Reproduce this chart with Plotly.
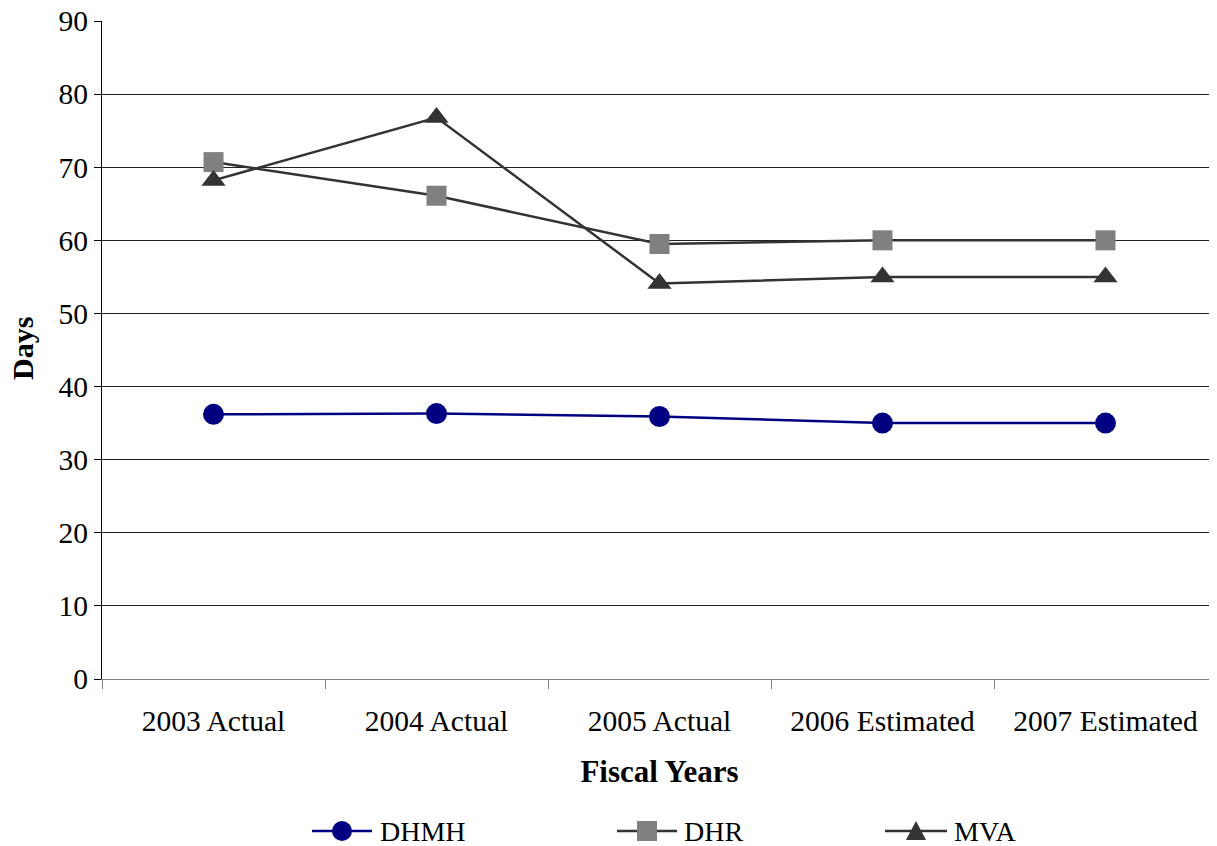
import plotly.graph_objects as go

categories = ["2003 Actual", "2004 Actual", "2005 Actual", "2006 Estimated", "2007 Estimated"]
dhmh = [36.2, 36.3, 35.9, 35.0, 35.0]
dhr = [70.7, 66.1, 59.5, 60.0, 60.0]
mva = [68.2, 76.8, 54.1, 55.0, 55.0]
series_names = ["DHMH", "DHR", "MVA"]

FONT = "'Liberation Serif', 'Times New Roman', Times, serif"
OFF = 8  # page body margin
W, H = 1217 - OFF, 846 - OFF
L, R, T, B = 102 - OFF, 0, 21 - OFF, 167
pw = W - L - R
ph = H - T - B

def px2x(page_px):
    return (page_px - OFF - L) / pw

def py2y(page_py):
    return 1 - (page_py - OFF - T) / ph

styles = [
    dict(line="#000080", marker="#000080", symbol="circle", size=21),
    dict(line="#333333", marker="#808080", symbol="square", size=20),
    dict(line="#333333", marker="#333333", symbol="triangle-up", size=21),
]
values = [dhmh, dhr, mva]

fig = go.Figure()
for name, vals, st in zip(series_names, values, styles):
    fig.add_trace(go.Scatter(x=categories, y=vals, name=name, mode="lines+markers",
                             line=dict(color=st["line"], width=2.5),
                             marker=dict(symbol=st["symbol"], size=st["size"], color=st["marker"]),
                             showlegend=False))

# Manual legend (line + symbol + serif text) below the plot
leg_y_px = 831
leg_items = [(312, 372, 378), (617, 677, 682), (885, 947, 952)]  # line start, line end, text start (page px)
symbol_paths = {
    "circle": None,
    "square": "M-10,-10 L10,-10 L10,10 L-10,10 Z",
    "triangle-up": "M-10,-9 L10,-9 L0,10 Z",
}
shapes = []
annotations = []
for (x0, x1, xt), name, st in zip(leg_items, series_names, styles):
    ya = py2y(leg_y_px)
    xc = px2x((x0 + x1) / 2)
    shapes.append(dict(type="line", xref="paper", yref="paper",
                       x0=px2x(x0), x1=px2x(x1), y0=ya, y1=ya,
                       line=dict(color=st["line"], width=2.5)))
    if st["symbol"] == "circle":
        shapes.append(dict(type="circle", xref="paper", yref="paper",
                           xsizemode="pixel", ysizemode="pixel", xanchor=xc, yanchor=ya,
                           x0=-10, x1=10, y0=-10, y1=10,
                           fillcolor=st["marker"], line=dict(width=0)))
    else:
        shapes.append(dict(type="path", xref="paper", yref="paper",
                           xsizemode="pixel", ysizemode="pixel", xanchor=xc, yanchor=ya,
                           path=symbol_paths[st["symbol"]],
                           fillcolor=st["marker"], line=dict(width=0)))
    annotations.append(dict(text=name, showarrow=False, xref="paper", yref="paper",
                            x=px2x(xt), y=ya, xanchor="left", yanchor="middle",
                            font=dict(family=FONT, size=28, color="black")))

annotations.append(dict(
    text="<b>Days</b>", textangle=-90, showarrow=False,
    xref="paper", yref="paper", x=px2x(22), y=py2y(349),
    xanchor="center", yanchor="middle",
    font=dict(family=FONT, size=30, color="black"),
))

fig.update_layout(
    template="none",
    width=W, height=H,
    margin=dict(l=L, r=R, t=T, b=B, autoexpand=False),
    plot_bgcolor="white", paper_bgcolor="white",
    font=dict(family=FONT, color="black"),
    showlegend=False,
    xaxis=dict(
        range=[-0.5, 4.5], showgrid=False, zeroline=False, automargin=False,
        showline=True, linecolor="#808080", linewidth=1,
        ticks="outside", tickson="boundaries", ticklen=9, tickcolor="#808080",
        ticklabelstandoff=16,
        tickfont=dict(family=FONT, size=29.5, color="black"),
        title=dict(text="<b>Fiscal Years</b>", font=dict(family=FONT, size=31, color="black"), standoff=23),
    ),
    yaxis=dict(
        range=[0, 90], dtick=10, showgrid=True, gridcolor="#222222", gridwidth=1,
        zeroline=False, showline=True, linecolor="black", linewidth=1, automargin=False,
        ticks="outside", ticklen=7, tickcolor="black",
        ticklabeloverflow="allow",
        tickfont=dict(family=FONT, size=29.5, color="black"),
    ),
    shapes=shapes,
    annotations=annotations,
)

fig.write_html("out.html")
